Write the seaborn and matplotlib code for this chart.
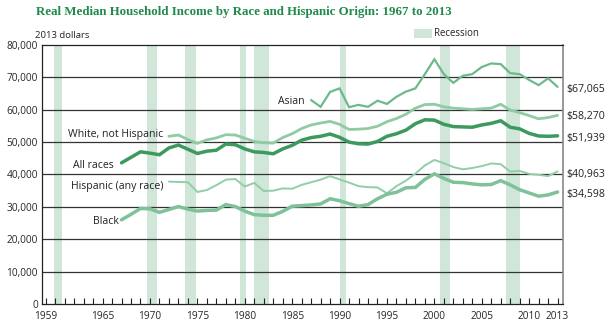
import matplotlib
matplotlib.use("Agg")
import matplotlib.pyplot as plt
import matplotlib.patches as mpatches
import numpy as np
import pandas as pd
import seaborn as sns

sns.set_theme(style="white")
plt.rcParams['font.family'] = ['Open Sans', 'DejaVu Sans']

# ---------------- data (thousands of 2013 dollars) ----------------
years_all = list(range(1967, 2014))
all_races = [43.6, 45.3, 47.0, 46.6, 46.1, 48.2, 49.1, 47.8, 46.5, 47.2,
             47.5, 49.4, 49.2, 47.9, 47.0, 46.8, 46.4, 47.9, 49.0, 50.6,
             51.4, 51.8, 52.5, 51.5, 50.0, 49.5, 49.4, 50.2, 51.8, 52.6,
             53.7, 55.7, 56.9, 56.8, 55.5, 54.8, 54.7, 54.6, 55.3, 55.8,
             56.6, 54.6, 54.1, 52.7, 51.9, 51.8, 51.939]
black = [26.0, 27.7, 29.5, 29.4, 28.3, 29.2, 30.1, 29.3, 28.7, 28.9,
         29.0, 30.7, 30.1, 28.7, 27.6, 27.4, 27.4, 28.6, 30.2, 30.4,
         30.6, 30.9, 32.5, 31.9, 31.0, 30.2, 30.7, 32.5, 33.9, 34.5,
         35.9, 36.0, 38.5, 40.2, 38.8, 37.6, 37.5, 37.1, 36.8, 36.9,
         38.1, 36.8, 35.3, 34.3, 33.3, 33.7, 34.598]

years_1972 = list(range(1972, 2014))
white_nh = [51.8, 52.2, 50.8, 49.6, 50.7, 51.3, 52.3, 52.2, 51.2, 50.2,
            49.8, 49.7, 51.4, 52.6, 54.2, 55.3, 55.9, 56.4, 55.5, 53.9,
            54.0, 54.2, 54.9, 56.3, 57.3, 58.6, 60.5, 61.6, 61.7, 60.9,
            60.5, 60.3, 60.1, 60.3, 60.5, 61.7, 59.9, 59.1, 58.2, 57.2,
            57.6, 58.270]
hispanic = [37.8, 37.7, 37.6, 34.6, 35.2, 36.7, 38.4, 38.6, 36.3, 37.4,
            34.9, 35.0, 35.7, 35.6, 36.8, 37.6, 38.4, 39.5, 38.5, 37.5,
            36.4, 36.1, 36.0, 34.2, 36.4, 38.1, 40.3, 42.8, 44.5, 43.5,
            42.3, 41.6, 42.0, 42.6, 43.4, 43.2, 40.9, 41.1, 40.2, 39.9,
            39.5, 40.963]

years_1987 = list(range(1987, 2014))
asian = [63.0, 60.9, 65.5, 66.6, 60.8, 61.5, 60.9, 62.8, 61.8, 64.0,
         65.6, 66.6, 71.0, 75.6, 71.0, 68.3, 70.5, 71.0, 73.2, 74.3,
         74.1, 71.3, 71.0, 69.2, 67.6, 69.7, 67.065]

recessions = [(1959.9, 1960.7), (1969.7, 1970.75), (1973.7, 1974.85),
              (1979.5, 1980.1), (1981.0, 1982.6), (1990.05, 1990.7),
              (2000.6, 2001.6), (2007.6, 2009.0)]

end_labels = ["$67,065", "$58,270", "$51,939", "$40,963", "$34,598"]
x_tick_labels = [1959, 1965, 1970, 1975, 1980, 1985, 1990, 1995, 2000, 2005, 2010, 2013]

series = [
    ("Asian", years_1987, asian, "#6cb98b", 1.6),
    ("White, not Hispanic", years_1972, white_nh, "#8fcba3", 2.0),
    ("All races", years_all, all_races, "#3d9a5f", 2.5),
    ("Hispanic (any race)", years_1972, hispanic, "#92cda8", 1.4),
    ("Black", years_all, black, "#7fc299", 2.5),
]

# ---------------- figure ----------------
fig = plt.figure(figsize=(6.15, 3.29), dpi=100)
ax = fig.add_axes([42/615, 1-304/329, (562.7-42)/615, (304-45)/329])

for a, b in recessions:
    ax.axvspan(a, b, color="#cfe6d8", lw=0, zorder=0)

for yv in range(10000, 80000, 10000):
    ax.axhline(yv, color="#333333", lw=0.9, zorder=1)

for name, yrs, vals, col, lw in series:
    sns.lineplot(x=yrs, y=np.array(vals) * 1000, ax=ax, color=col, lw=lw,
                 zorder=3, solid_joinstyle="miter")

ax.set_xlim(1958.61, 2013.54)
ax.set_ylim(0, 80000)
ax.set_xlabel("")
ax.set_ylabel("")

ax.set_xticks(range(1959, 2014))
ax.set_xticklabels([str(y) if y in x_tick_labels else "" for y in range(1959, 2014)])
ax.tick_params(axis="x", direction="in", length=4, width=0.8, color="#222222",
               labelsize=7.3, pad=5, bottom=True)
ax.set_yticks(range(0, 80001, 10000))
ax.set_yticklabels([f"{v:,}" for v in range(0, 80001, 10000)])
ax.tick_params(axis="y", length=0, labelsize=7.3, pad=3)

for s in ["left", "bottom", "top"]:
    ax.spines[s].set_color("#222222")
    ax.spines[s].set_linewidth(0.9)
ax.spines["right"].set_color("#888888")
ax.spines["right"].set_linewidth(1.2)

# series labels
lab_kw = dict(fontsize=7.6, color="#222222", va="center")
ax.text(1971.4, 52300, "White, not Hispanic", ha="right", **lab_kw)
ax.text(1966.2, 42800, "All races", ha="right", **lab_kw)
ax.text(1971.4, 36400, "Hispanic (any race)", ha="right", **lab_kw)
ax.text(1966.7, 25400, "Black", ha="right", **lab_kw)
ax.text(1986.3, 62400, "Asian", ha="right", **lab_kw)

# end labels (pixel offsets below the line ends)
end_vals = [asian[-1], white_nh[-1], all_races[-1], hispanic[-1], black[-1]]
end_offsets = [2.2, 0.8, 3.0, 3.5, 2.2]
for lab, v, off in zip(end_labels, end_vals, end_offsets):
    fig.text(566/615, 1 - (304 - v * 3.2375 + off) / 329, lab, fontsize=7.6,
             color="#222222", va="center", ha="left")

# title & annotations
fig.text(36/615, 1-12/329, "Real Median Household Income by Race and Hispanic Origin: 1967 to 2013",
         fontsize=9.3, fontweight="bold", color="#1f8a4a", va="center", ha="left",
         family=["Liberation Serif"])
fig.text(35/615, 1-35/329, "2013 dollars", fontsize=6.8, color="#222222", va="center", ha="left")
fig.patches.append(mpatches.Rectangle((414/615, 1-38/329), 18/615, 9/329,
                                      transform=fig.transFigure, color="#cfe6d8", lw=0))
fig.text(434/615, 1-33/329, "Recession", fontsize=6.9, color="#222222", va="center", ha="left")

fig.savefig("out.png", dpi=100)
